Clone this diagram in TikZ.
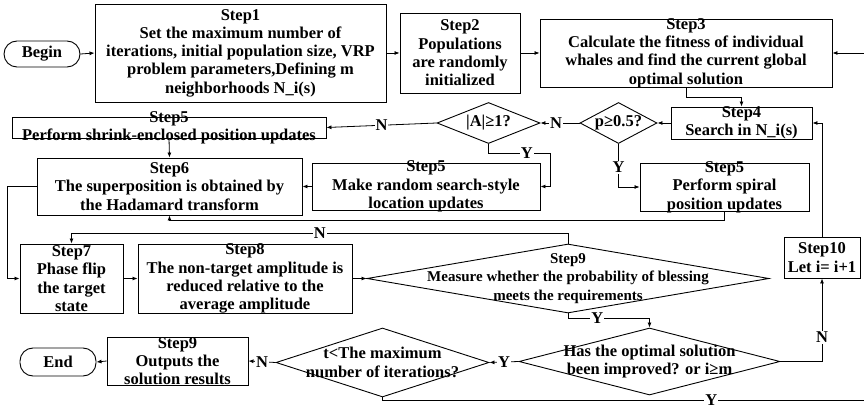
\documentclass[tikz,border=0pt]{standalone}
\usepackage{fontspec}
\setmainfont{Liberation Serif}
\usetikzlibrary{shapes.geometric,arrows.meta,calc}
\begin{document}
\begin{tikzpicture}[x=1pt,y=-1pt,
  every node/.style={font=\bfseries\fontsize{16.5}{18.3}\selectfont},
  box/.style={draw, line width=0.9pt, inner sep=0pt},
  term/.style={box, rounded corners=13pt},
  dia/.style={draw, line width=0.9pt, inner sep=0pt, diamond},
  txt/.style={align=center, inner sep=0pt},
  arr/.style={line width=0.8pt, -{Latex[length=5pt,width=4pt]}},
  lab/.style={fill=white, inner sep=1pt}]
\useasboundingbox (0,0) rectangle (864,406);

\node[term, minimum width=76pt, minimum height=26pt] (begin) at (42,54) {Begin};
\node[box, minimum width=291pt, minimum height=98pt,
  label={[txt]center:{Step1\\Set the maximum number of\\iterations, initial population size, VRP\\problem parameters,Defining m\\neighborhoods N\_i(s)}}] (s1) at (240.5,53) {};
\node[box, minimum width=120pt, minimum height=80pt,
  label={[txt]center:{Step2\\Populations\\are randomly\\initialized}}] (s2) at (460,53) {};
\node[box, minimum width=292pt, minimum height=68pt,
  label={[txt]center:{Step3\\Calculate the fitness of individual\\whales and find the current global\\optimal solution}}] (s3) at (686,53) {};
\node[box, minimum width=141pt, minimum height=32pt,
  label={[txt]center:{Step4\\Search in N\_i(s)}}] (s4) at (741.5,123) {};
\node[dia, minimum width=77pt, minimum height=41pt,
  label={[txt]center:{p≥0.5?}}] (dp) at (618.5,123) {};
\node[dia, minimum width=103pt, minimum height=41pt,
  label={[txt]center:{|A|≥1?}}] (dA) at (488.5,123) {};
\node[box, minimum width=314pt, minimum height=21pt,
  label={[txt]center:{Step5\\Perform shrink-enclosed position updates}}] (sh) at (169,127.5) {};
\node[box, minimum width=265pt, minimum height=57pt,
  label={[txt]center:{Step6\\The superposition is obtained by\\the Hadamard transform}}] (s6) at (169.5,186.5) {};
\node[box, minimum width=228pt, minimum height=47pt,
  label={[txt]center:{Step5\\Make random search-style\\location updates}}] (rnd) at (426,186.5) {};
\node[box, minimum width=169pt, minimum height=48pt,
  label={[txt]center:{Step5\\Perform spiral\\position updates}}] (sp) at (724.5,187) {};
\node[box, minimum width=103pt, minimum height=69pt,
  label={[txt]center:{Step7\\Phase flip\\the target\\state}}] (s7) at (71.5,278.5) {};
\node[box, minimum width=214pt, minimum height=69pt,
  label={[txt]center:{Step8\\The non-target amplitude is\\reduced relative to the\\average amplitude}}] (s8) at (245,278.5) {};
\node[dia, minimum width=402pt, minimum height=69pt,
  label={[txt,font=\bfseries\fontsize{15}{18.3}\selectfont]center:{Step9\\Measure whether the probability of blessing\\meets the requirements}}] (d9) at (568,278.5) {};
\node[box, minimum width=76pt, minimum height=41pt,
  label={[txt]center:{Step10\\Let i= i+1}}] (s10) at (822,257.5) {};
\node[dia, minimum width=261pt, minimum height=67pt,
  label={[txt]center:{Has the optimal solution\\been improved? or i≥m}}] (has) at (649.5,361.5) {};
\node[dia, minimum width=213pt, minimum height=69pt,
  label={[txt]center:{t<The maximum\\number of iterations?}}] (dt) at (382.5,362.5) {};
\node[box, minimum width=141pt, minimum height=48pt,
  label={[txt]center:{Step9\\Outputs the\\solution results}}] (s9o) at (177.5,361) {};
\node[term, minimum width=76pt, minimum height=28pt] (end) at (58,362) {End};

\coordinate (edgeB) at (866,400.5);

\draw[arr] (begin.east) -- (s1.west);
\draw[arr] (s1.east) -- (s2.west);
\draw[arr] (s2.east) -- (s3.west);
\draw[arr] (s3.south) -- ++(0,10) -| (s4.north);
\draw[arr] (s4.west) -- (dp.east);
\draw[arr] (dp.west) -- node[lab,pos=0.6]{N} (dA.east);
\draw[arr] (dA.west) -- node[lab]{N} (sh.east);
\draw[arr] (dA.south) -- ++(0,9) -| node[lab,pos=0.31]{Y} ($(rnd.east)+(10,0)$) -- (rnd.east);
\draw[arr] (dp.south) |- node[lab,pos=0.27]{Y} (sp.west);
\draw[arr] (sh.south) -- (s6.north);
\draw[arr] (rnd.west) -- (s6.east);
\draw[arr] (sp.south) -- ++(0,9) -| (s6.south);
\draw[arr] (s6.west) -- ++(-29,0) |- (s7.west);
\draw[arr] (s7.east) -- (s8.west);
\draw[arr] (s8.east) -- (d9.west);
\draw[arr] (d9.north) -- ++(0,-10) -| node[lab,pos=0.25]{N} (s7.north);
\draw[arr] (d9.south) -- ++(0,5) -| node[lab,pos=0.18]{Y} (has.north);
\draw[arr] (has.east) -| node[lab,pos=0.645]{N} (s10.south);
\draw[arr] (s10.north) |- (s4.east);
\draw[arr] (has.west) -- node[lab]{Y} (dt.east);
\draw[arr] (dt.west) -- node[lab]{N} (s9o.east);
\draw[arr] (s9o.west) -- (end.east);
\draw[arr] (dt.south) |- node[lab,pos=0.84]{Y} (edgeB) -- (edgeB |- s3.east) -- (s3.east);
\end{tikzpicture}
\end{document}
